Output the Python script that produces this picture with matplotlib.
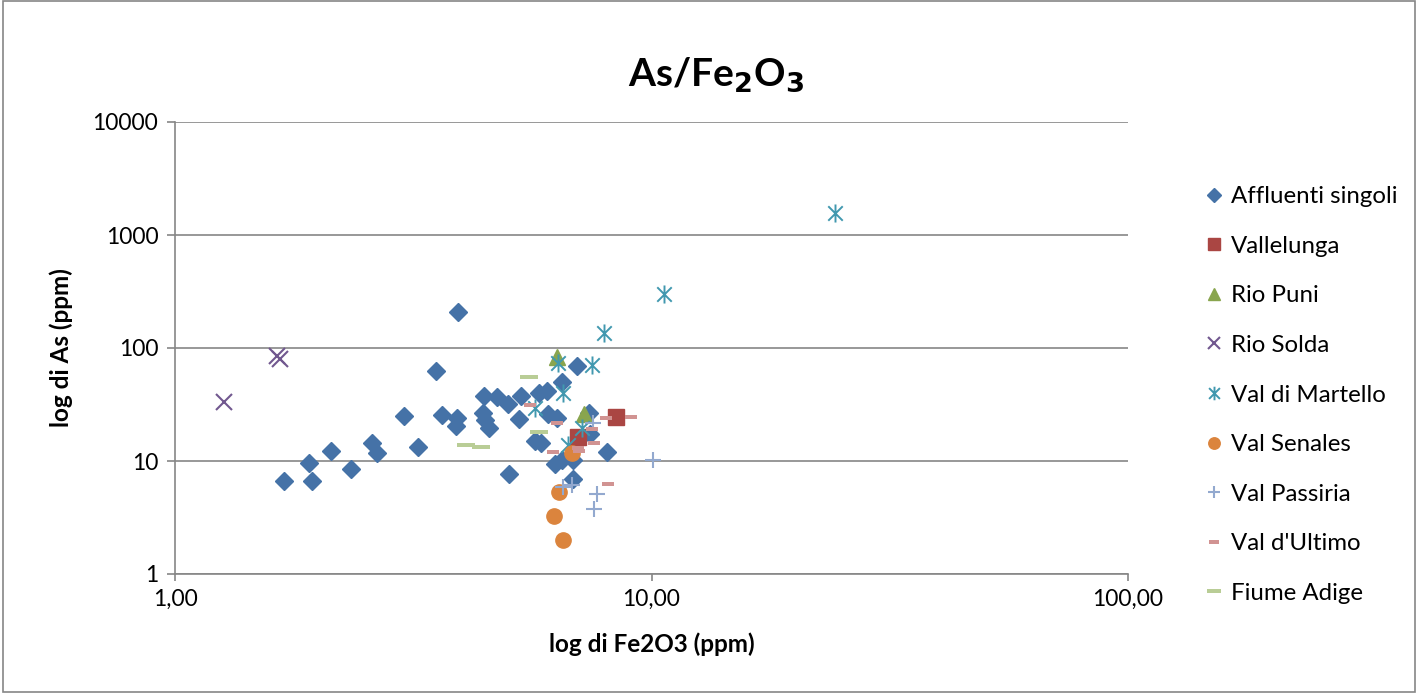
import matplotlib
matplotlib.use("Agg")
import matplotlib.pyplot as plt
from matplotlib.path import Path
from matplotlib.patches import Rectangle

plt.rcParams['font.family'] = ['Lato', 'DejaVu Sans']

# ---- data (Fe2O3, As) ----
aff_x = [1.69, 1.91, 1.94, 2.13, 2.34, 2.59, 2.65, 3.02, 3.24, 3.53, 3.63, 3.91, 3.89, 3.93,
         4.45, 4.74, 5.00, 5.32, 4.43, 4.47, 4.56, 5.27, 5.81, 6.04, 6.49, 6.98, 6.06, 6.34,
         5.69, 5.86, 7.39, 7.43, 8.07, 5.02, 6.27, 6.49, 6.84, 6.84]
aff_y = [6.65, 9.6, 6.65, 12.3, 8.5, 14.4, 11.8, 25.0, 13.3, 62.6, 25.5, 24.0, 20.4, 208,
         37.6, 36.9, 31.9, 37.6, 26.6, 23.1, 19.6, 23.5, 40.0, 41.6, 50.0, 69.3, 26.1, 24.0,
         15.0, 14.4, 26.6, 17.3, 12.0, 7.67, 9.4, 10.2, 10.2, 6.93]
vall_x = [8.42, 7.01]
vall_y = [24.5, 16.3]
puni_x = [6.34, 7.22]
puni_y = [83.3, 26.1]
solda_x = [1.64, 1.66, 1.27]
solda_y = [85.0, 80.0, 33.3]
mart_x = [24.3, 10.6, 7.95, 6.37, 7.50, 6.52, 5.69, 7.15, 6.68]
mart_y = [1566, 301, 136, 73.7, 70.7, 40.0, 29.4, 19.6, 13.9]
sen_x = [6.81, 6.40, 6.24, 6.52]
sen_y = [11.8, 5.32, 3.26, 2.0]
pass_x = [10.07, 7.69, 7.57, 6.52, 6.81, 7.54]
pass_y = [10.2, 5.10, 3.76, 5.89, 6.13, 21.7]
ult_x = [5.56, 6.34, 8.03, 9.06, 7.50, 7.57, 7.01, 7.04, 6.21, 8.10]
ult_y = [31.3, 21.7, 24.0, 24.5, 19.2, 14.4, 13.0, 12.3, 12.0, 6.26]
adige_x = [5.53, 5.81, 4.08, 4.39]
adige_y = [55.4, 18.1, 13.9, 13.3]

x_ticks = [1, 10, 100]
x_ticklabels = ["1,00", "10,00", "100,00"]
y_ticks = [1, 10, 100, 1000, 10000]
y_ticklabels = ["1", "10", "100", "1000", "10000"]

# ---- custom markers ----
star_path = Path([(0, -1), (0, 1), (-0.8, -0.8), (0.8, 0.8), (-0.8, 0.8), (0.8, -0.8)],
                 [Path.MOVETO, Path.LINETO, Path.MOVETO, Path.LINETO, Path.MOVETO, Path.LINETO])
short_dash = Path([(-1, -0.38), (1, -0.38), (1, 0.38), (-1, 0.38), (-1, -0.38)],
                  [Path.MOVETO, Path.LINETO, Path.LINETO, Path.LINETO, Path.CLOSEPOLY])
long_dash = Path([(-1, -0.25), (1, -0.25), (1, 0.25), (-1, 0.25), (-1, -0.25)],
                 [Path.MOVETO, Path.LINETO, Path.LINETO, Path.LINETO, Path.CLOSEPOLY])

W, H = 1418, 693
fig = plt.figure(figsize=(W / 100, H / 100), dpi=100)
ax = fig.add_axes([175 / W, 1 - 574 / H, (1128 - 175) / W, (574 - 122) / H])

ax.plot(aff_x, aff_y, ls='none', marker='D', ms=9.5, color='#4572A7', mec='#4572A7', label='Affluenti singoli', zorder=3)
ax.plot(vall_x, vall_y, ls='none', marker='s', ms=11, color='#AA4643', label='Vallelunga', zorder=3)
ax.plot(puni_x, puni_y, ls='none', marker='^', ms=11, color='#89A54E', label='Rio Puni', zorder=3)
ax.plot(solda_x, solda_y, ls='none', marker='x', ms=11, mew=1.5, color='#71588F', label='Rio Solda', zorder=3)
ax.plot(mart_x, mart_y, ls='none', marker=star_path, ms=13, mew=1.4, color='#4198AF', mfc='none', label='Val di Martello', zorder=3)
ax.plot(sen_x, sen_y, ls='none', marker='o', ms=11, color='#DB843D', label='Val Senales', zorder=3)
ax.plot(pass_x, pass_y, ls='none', marker='+', ms=11, mew=1.5, color='#93A9CF', label='Val Passiria', zorder=3)
ax.plot(ult_x, ult_y, ls='none', marker=short_dash, ms=9, mew=0, color='#D19392', label="Val d'Ultimo", zorder=3)
ax.plot(adige_x, adige_y, ls='none', marker=long_dash, ms=13, mew=0, color='#B9CD96', label='Fiume Adige', zorder=3)

ax.set_xscale('log')
ax.set_yscale('log')
ax.set_xlim(1, 100)
ax.set_ylim(1, 10000)
ax.set_xticks(x_ticks)
ax.set_xticklabels(x_ticklabels)
ax.set_yticks(y_ticks)
ax.set_yticklabels(y_ticklabels)
ax.minorticks_off()
ax.tick_params(axis='both', labelsize=16.5, color='#868686', length=5, width=1.2, pad=6)
ax.tick_params(axis='y', length=6)
ax.grid(True, axis='y', color='#868686', lw=1.2)
ax.set_axisbelow(True)
for s in ['top', 'right']:
    ax.spines[s].set_visible(False)
for s in ['left', 'bottom']:
    ax.spines[s].set_color('#868686')
    ax.spines[s].set_linewidth(1.2)

ax.set_xlabel('log di Fe2O3 (ppm)', fontsize=17.5, fontweight='bold', labelpad=16)
ax.set_ylabel('log di As (ppm)', fontsize=17.5, fontweight='bold', labelpad=14)

fig.text(716 / W, 1 - 75 / H, r'As/Fe$_\mathbf{2}$O$_\mathbf{3}$', fontsize=28, fontweight='bold',
         ha='center', va='center')

fig.legend(loc='center left', bbox_to_anchor=(1185 / W, 1 - 395 / H), frameon=False,
           fontsize=17.3, labelspacing=1.19, handlelength=0.6, handletextpad=0.4, numpoints=1,
           markerscale=0.75)

fig.patches.append(Rectangle((0.002, 0.002), 0.996, 0.996, transform=fig.transFigure,
                             fill=False, edgecolor='#868686', lw=1.2))

fig.savefig('out.png', dpi=100)
